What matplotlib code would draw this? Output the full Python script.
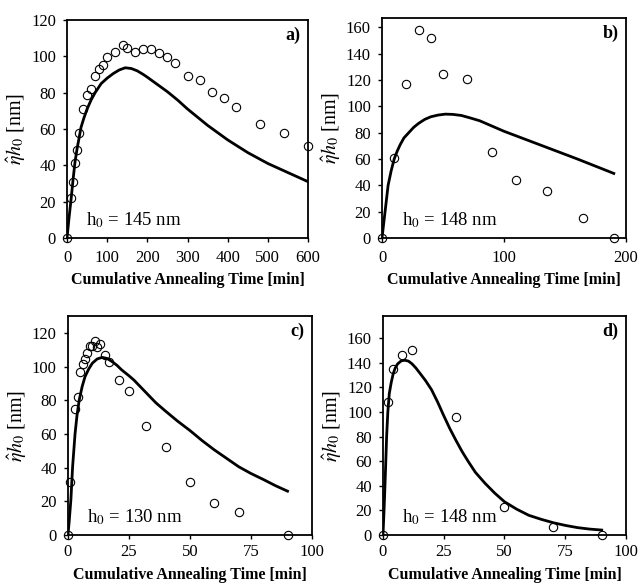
import matplotlib.pyplot as plt

plt.rcParams['font.family'] = ['Liberation Serif', 'DejaVu Serif']
plt.rcParams['mathtext.fontset'] = 'stix'

# Panel a) h0 = 145 nm
a_t = [0, 10, 15, 20, 25, 30, 40, 50, 60, 70, 80, 90, 100, 120, 140, 150, 170, 190,
       210, 230, 250, 270, 300, 330, 360, 390, 420, 480, 540, 600]
a_h = [0, 22, 31, 41.5, 48.7, 58, 71, 78.5, 82, 89, 93, 95, 99.5, 102.4, 106, 104.8,
       102.2, 104, 104, 101.7, 99.6, 96.5, 89, 86.8, 80.5, 76.8, 72, 63, 57.7, 50.5]
a_fit_t = [0, 5, 10, 15, 20, 25, 35, 42, 50, 60, 70, 85, 100, 115, 130, 145, 160, 175,
           190, 200, 225, 250, 275, 300, 350, 400, 450, 500, 550, 600]
a_fit_h = [0, 11, 21, 32, 42, 49, 61, 66, 71, 76, 80, 85, 88, 90.5, 92.5, 93.7, 93.3, 92,
           90, 88.5, 84.5, 80.5, 76, 71, 62, 54, 47, 41, 36, 31]

# Panel b) h0 = 148 nm
b_t = [0, 10, 20, 30, 40, 50, 70, 90, 110, 135, 165, 190]
b_h = [0, 60.5, 116.7, 158, 152, 124.3, 120.3, 65.4, 44, 36, 15, 0]
b_fit_t = [0, 2.5, 5, 7.5, 10, 12.5, 15, 18, 22, 26, 30, 35, 40, 46, 52, 58, 65, 72,
           80, 90, 100, 110, 120, 130, 140, 150, 160, 175, 190]
b_fit_h = [0, 20, 40, 51, 60, 66, 71, 76, 80, 84, 87, 90, 92, 93.3, 94, 93.8, 93, 91.2,
           89, 85, 81, 77.5, 74, 70.5, 67, 63.5, 60, 54.5, 49]

# Panel c) h0 = 130 nm
c_t = [0, 1, 3, 4, 5, 6, 7, 8, 9, 10, 11, 12, 13, 15, 17, 21, 25, 32, 40, 50, 60, 70, 90]
c_h = [0, 31.3, 75, 82, 96.7, 101.6, 104.4, 108, 112, 112.3, 115, 111.5, 113.5, 107,
       102.6, 92, 85.5, 64.5, 52.3, 31.5, 18.8, 13.7, 0]
c_fit_t = [0, 0.5, 1.2, 1.9, 2.9, 3.7, 4.6, 5.8, 7, 8.5, 10, 12, 14, 16, 18, 20, 22, 25,
           27, 30, 33, 36, 40, 45, 50, 55, 60, 65, 70, 75, 80, 85, 90]
c_fit_h = [0, 8, 21, 40.5, 60, 71, 80, 88, 94, 98.5, 102, 104.5, 105.4, 104.8, 103, 100.8,
           98, 94.5, 92, 87.5, 83, 78.5, 73.5, 67.5, 62, 56, 50.5, 45.5, 40.5, 36.5, 33,
           29.3, 26]

# Panel d) h0 = 148 nm
d_t = [0, 2, 4, 8, 12, 30, 50, 70, 90]
d_h = [0, 108.3, 134.6, 146.2, 150.3, 96.1, 22.7, 6.8, 0]
d_fit_t = [0, 0.4, 0.8, 1.2, 1.5, 2, 2.6, 3.4, 4.2, 5, 6, 7.5, 9, 10.5, 12, 13.5, 15,
           17.5, 20, 22.5, 25, 27.5, 30, 32.5, 35, 38, 42, 46, 50, 55, 60, 65, 70, 75,
           80, 85, 90]
d_fit_h = [0, 18, 39, 62, 80, 100, 115, 124, 131, 135.5, 139, 141.5, 142, 141.3, 139,
           135.8, 132, 125.5, 118, 108, 97, 86.5, 77, 68, 60, 51, 42, 34, 27, 21, 16,
           12.8, 10, 7.8, 6, 4.8, 4]

panels = [
    ('a)', 'h$_0$ = 145 nm', a_t, a_h, a_fit_t, a_fit_h, 600, range(0, 601, 100), 120, range(0, 121, 20)),
    ('b)', 'h$_0$ = 148 nm', b_t, b_h, b_fit_t, b_fit_h, 200, range(0, 201, 100), 167, range(0, 161, 20)),
    ('c)', 'h$_0$ = 130 nm', c_t, c_h, c_fit_t, c_fit_h, 100, range(0, 101, 25), 130, range(0, 121, 20)),
    ('d)', 'h$_0$ = 148 nm', d_t, d_h, d_fit_t, d_fit_h, 100, range(0, 101, 25), 178, range(0, 161, 20)),
]

rects = [
    [0.1047, 0.5932, 0.3766, 0.3726],
    [0.5969, 0.5932, 0.3812, 0.3761],
    [0.1062, 0.0855, 0.3812, 0.3744],
    [0.5984, 0.0855, 0.3797, 0.3744],
]

fig = plt.figure(figsize=(6.4, 5.85), dpi=100)

for i, (rect, (tag, note, t, h, ft, fh, xmax, xt, ymax, yt)) in enumerate(zip(rects, panels)):
    top_row = i < 2
    ax = fig.add_axes(rect)
    ax.plot(ft, fh, color='black', lw=2.0, zorder=2, solid_joinstyle='round')
    ax.plot(t, h, 'o', mfc='none', mec='black', mew=0.8, ms=6, clip_on=False, zorder=3)
    ax.set_xlim(0, xmax)
    ax.set_ylim(0, ymax)
    ax.set_xticks(list(xt))
    ax.set_yticks(list(yt))
    ax.tick_params(direction='out', length=3, width=1, labelsize=12, top=False, right=False)
    ax.tick_params(axis='y', pad=5)
    ax.tick_params(axis='x', pad=6 if top_row else 3.5)
    for s in ax.spines.values():
        s.set_linewidth(1.3)
    ax.set_xlabel('Cumulative Annealing Time [min]', fontsize=11.5, fontweight='bold',
                  labelpad=4 if top_row else 5)
    ax.set_ylabel(r'$\hat{\eta}h_0$ [nm]', fontsize=14.5, labelpad=2)
    ax.text(0.97, 0.93, tag, transform=ax.transAxes, ha='right', va='center',
            fontsize=13, fontweight='bold')
    ax.text(0.08, 0.08, note, transform=ax.transAxes, ha='left', va='center', fontsize=13.5)

fig.savefig('out.png', dpi=100)
